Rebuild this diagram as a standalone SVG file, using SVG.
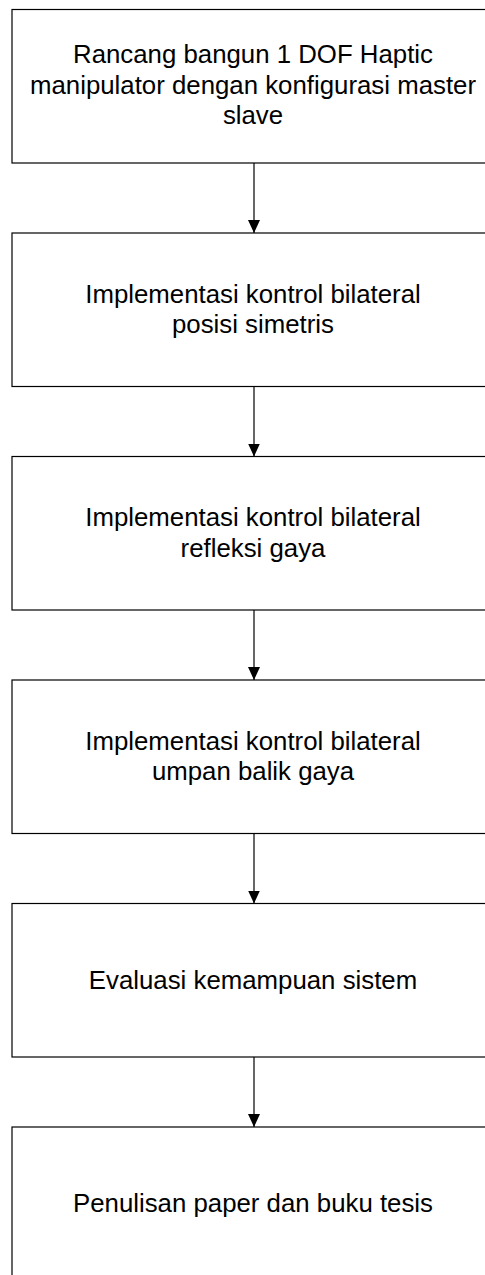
<svg xmlns="http://www.w3.org/2000/svg" width="485" height="1275" viewBox="0 0 485 1275">
<defs>
<style>
.box{fill:#fff;stroke:#000;stroke-width:1.2}
.t{font-family:"Liberation Sans",Arial,sans-serif;font-size:25.8px;fill:#000;text-anchor:middle}
.c{stroke:#000;stroke-width:1.2;fill:none}
</style>
<marker id="ah" markerWidth="14" markerHeight="12" refX="13" refY="6" orient="auto" markerUnits="userSpaceOnUse" viewBox="0 0 14 12">
<path d="M0,0 L13,6 L0,12 Z" fill="#000"/>
</marker>
</defs>
<rect width="485" height="1275" fill="#fff"/>
<g id="n1"><rect class="box" x="12" y="9.5" width="480" height="153.5"/>
<text class="t" x="253" y="63">Rancang bangun 1 DOF Haptic</text>
<text class="t" x="253" y="93.5">manipulator dengan konfigurasi master</text>
<text class="t" x="253" y="124">slave</text></g>
<g id="n2"><rect class="box" x="12" y="233" width="480" height="153.5"/>
<text class="t" x="253" y="302.5">Implementasi kontrol bilateral</text>
<text class="t" x="253" y="333">posisi simetris</text></g>
<g id="n3"><rect class="box" x="12" y="456.5" width="480" height="153.5"/>
<text class="t" x="253" y="526">Implementasi kontrol bilateral</text>
<text class="t" x="253" y="556.5">refleksi gaya</text></g>
<g id="n4"><rect class="box" x="12" y="680" width="480" height="153.5"/>
<text class="t" x="253" y="749.5">Implementasi kontrol bilateral</text>
<text class="t" x="253" y="780">umpan balik gaya</text></g>
<g id="n5"><rect class="box" x="12" y="903.5" width="480" height="153.5"/>
<text class="t" x="253" y="988.5">Evaluasi kemampuan sistem</text></g>
<g id="n6"><rect class="box" x="12" y="1127" width="480" height="153.5"/>
<text class="t" x="253" y="1212">Penulisan paper dan buku tesis</text></g>
<g id="connectors">
<line class="c" x1="254" y1="163" x2="254" y2="233" marker-end="url(#ah)"/>
<line class="c" x1="254" y1="386.5" x2="254" y2="456.5" marker-end="url(#ah)"/>
<line class="c" x1="254" y1="610" x2="254" y2="680" marker-end="url(#ah)"/>
<line class="c" x1="254" y1="833.5" x2="254" y2="903.5" marker-end="url(#ah)"/>
<line class="c" x1="254" y1="1057" x2="254" y2="1127" marker-end="url(#ah)"/>
</g>
</svg>
